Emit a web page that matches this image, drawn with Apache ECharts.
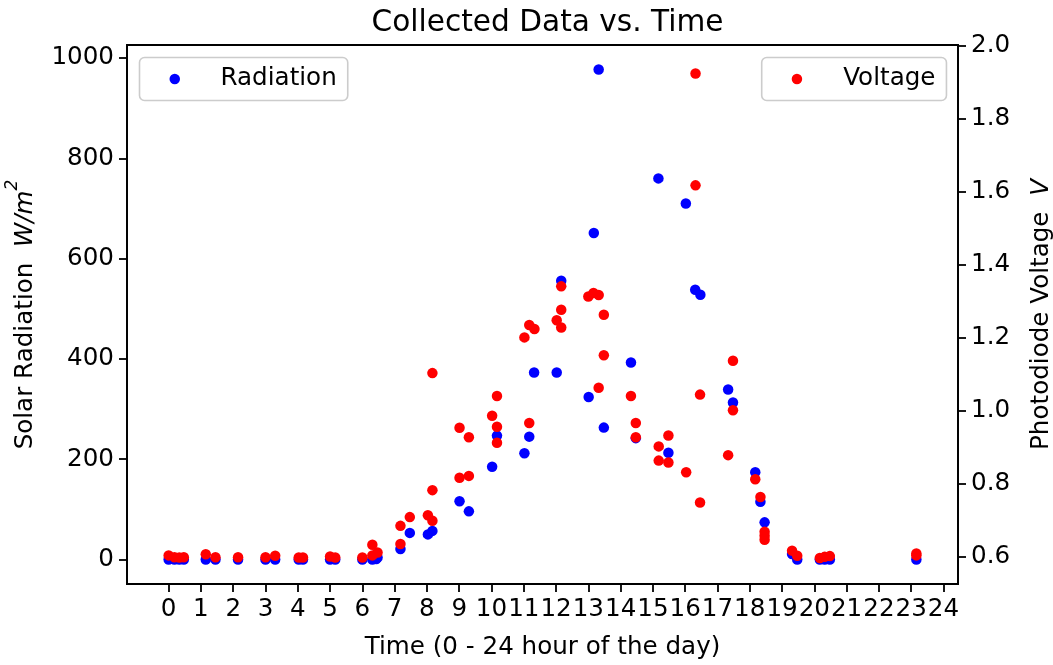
<!DOCTYPE html>
<html>
<head>
<meta charset="utf-8">
<script src="https://cdn.jsdelivr.net/npm/echarts@6/dist/echarts.min.js"></script>
<style>
html,body{margin:0;padding:0;background:#fff;}
#chart{width:1053px;height:665px;}
</style>
</head>
<body>
<div id="chart"></div>
<script>
// ---- data ----
var radTime = [0.0, 0.18, 0.33, 0.47, 1.15, 1.45, 2.15, 3.0, 3.3, 4.03, 4.16, 5.0, 5.16, 6.0, 6.31, 6.43, 6.47,
  7.18, 7.47, 8.03, 8.17, 9.01, 9.30, 10.02, 10.17, 11.02, 11.17, 11.32, 12.02, 12.16, 13.01, 13.17, 13.32, 13.48,
  14.32, 14.47, 15.17, 15.48, 16.02, 16.31, 16.47, 17.33, 17.48, 18.17, 18.33, 18.46, 19.31, 19.47, 20.17, 20.32, 20.48, 23.16];
var radValue = [0, 0, 0, 0, 0, 0, 0, 0, 0, 0, 0, 0, 0, 0, 0, 1, 4,
  21, 53, 50, 57, 116, 96, 185, 247, 212, 245, 373, 373, 556, 324, 651, 977, 263,
  393, 242, 760, 213, 710, 538, 528, 339, 313, 174, 115, 74, 11, 0, 0, 0, 0, 0];

var voltTime = [0.0, 0.18, 0.33, 0.47, 1.15, 1.45, 2.15, 3.0, 3.3, 4.03, 4.16, 5.0, 5.16, 6.0, 6.31, 6.31, 6.47,
  7.18, 7.18, 7.47, 8.03, 8.17, 8.17, 8.17, 9.01, 9.01, 9.30, 9.30, 10.02, 10.17, 10.17, 10.17,
  11.02, 11.17, 11.33, 11.17, 12.02, 12.16, 12.16, 12.16, 13.0, 13.16, 13.32, 13.48, 13.48, 13.32,
  14.32, 14.47, 14.47, 15.18, 15.18, 15.48, 15.48, 16.03, 16.32, 16.32, 16.46, 16.46, 17.33, 17.48, 17.48,
  18.17, 18.33, 18.46, 18.46, 18.46, 19.31, 19.47, 20.17, 20.32, 20.48, 23.16, 23.16];
var voltValue = [0.603, 0.598, 0.597, 0.598, 0.606, 0.598, 0.598, 0.598, 0.602, 0.597, 0.597, 0.600, 0.597, 0.597, 0.632, 0.603, 0.611,
  0.684, 0.634, 0.708, 0.713, 0.698, 0.782, 1.103, 0.953, 0.816, 0.927, 0.821, 0.986, 1.040, 0.956, 0.912,
  1.201, 1.235, 1.224, 0.966, 1.248, 1.277, 1.228, 1.341, 1.313, 1.323, 1.317, 1.263, 1.152, 1.063,
  1.040, 0.966, 0.927, 0.902, 0.863, 0.932, 0.858, 0.831, 1.925, 1.618, 1.044, 0.748, 0.878, 1.137, 1.001,
  0.812, 0.763, 0.668, 0.657, 0.646, 0.616, 0.602, 0.596, 0.599, 0.601, 0.603, 0.608];

var xTicks = [0,1,2,3,4,5,6,7,8,9,10,11,12,13,14,15,16,17,18,19,20,21,22,23,24];
var radTicks = [0, 200, 400, 600, 800, 1000];
var voltTicks = [0.6, 0.8, 1.0, 1.2, 1.4, 1.6, 1.8, 2.0];

var FONT = 'DejaVu Sans';
var FS = 24.6;

function pairs(xs, ys){ var out=[]; for(var i=0;i<xs.length;i++){ out.push([xs[i], ys[i]]); } return out; }

var chart = echarts.init(document.getElementById('chart'), null, {renderer:'canvas'});
var axisLineStyle = {color:'#000', width:1.8};
var tickStyle = {color:'#000', width:1.8};
var option = {
  animation:false,
  backgroundColor:'#fff',
  textStyle:{fontFamily:FONT},
  title:{
    text:'Collected Data vs. Time',
    left:542.5, top:3, textAlign:'center',
    textStyle:{fontFamily:FONT, fontSize:29.6, fontWeight:'normal', color:'#000'}
  },
  grid:{left:127, top:45, width:831, height:539, show:true, borderColor:'#000', borderWidth:1.8,
    containLabel:false, outerBoundsMode:'none'},
  legend:[
    {
      data:['Radiation'], left:139.5, top:57.5, orient:'horizontal',
      padding:[9,11,9,30], itemWidth:10.5, itemHeight:10.5, icon:'circle',
      backgroundColor:'rgba(255,255,255,0.8)', borderColor:'#cccccc', borderWidth:1.6, borderRadius:5,
      formatter:function(n){ return '{a|'+n+'}'; },
      textStyle:{fontFamily:FONT, fontSize:FS, color:'#000', rich:{a:{fontFamily:FONT, fontSize:FS, color:'#000', padding:[0,0,0,35.5]}}}
    },
    {
      data:['Voltage'], left:761.7, top:57.5, orient:'horizontal',
      padding:[9,11,9,30], itemWidth:10.5, itemHeight:10.5, icon:'circle',
      backgroundColor:'rgba(255,255,255,0.8)', borderColor:'#cccccc', borderWidth:1.6, borderRadius:5,
      formatter:function(n){ return '{a|'+n+'}'; },
      textStyle:{fontFamily:FONT, fontSize:FS, color:'#000', rich:{a:{fontFamily:FONT, fontSize:FS, color:'#000', padding:[0,0,0,36]}}}
    }
  ],
  xAxis:{
    type:'value', min:-1.29, max:24.45,
    name:'Time (0 - 24 hour of the day)', nameLocation:'middle', nameGap:51,
    nameTextStyle:{fontFamily:FONT, fontSize:FS, color:'#000'},
    axisLine:{show:true, onZero:false, lineStyle:axisLineStyle},
    axisTick:{show:true, length:8, lineStyle:tickStyle, customValues:xTicks},
    axisLabel:{fontFamily:FONT, fontSize:FS, color:'#000', margin:13, customValues:xTicks, hideOverlap:false,
      formatter:function(v){ return String(Math.round(v)); }},
    splitLine:{show:false}
  },
  yAxis:[
    {
      type:'value', position:'left', min:-48.9, max:1026,
      name:'{n|Solar Radiation  }{i|W/m}{s|2}', nameLocation:'middle', nameGap:89, nameRotate:90,
      nameTextStyle:{fontFamily:FONT, fontSize:FS, color:'#000', rich:{
        n:{fontFamily:FONT, fontSize:FS, color:'#000', lineHeight:34, verticalAlign:'bottom'},
        i:{fontFamily:FONT, fontSize:FS, color:'#000', fontStyle:'italic', lineHeight:34, verticalAlign:'bottom'},
        s:{fontFamily:FONT, fontSize:17, color:'#000', fontStyle:'italic', verticalAlign:'top', lineHeight:22}
      }},
      axisLine:{show:true, onZero:false, lineStyle:axisLineStyle},
      axisTick:{show:true, length:8, lineStyle:tickStyle, customValues:radTicks},
      axisLabel:{fontFamily:FONT, fontSize:FS, color:'#000', margin:13, customValues:radTicks,
        formatter:function(v){ return String(Math.round(v)); }},
      splitLine:{show:false}
    },
    {
      type:'value', position:'right', min:0.5245, max:2.003,
      name:'{n|Photodiode Voltage  }{i|V}', nameLocation:'middle', nameGap:71, nameRotate:90,
      nameTextStyle:{fontFamily:FONT, fontSize:FS, color:'#000', rich:{
        n:{fontFamily:FONT, fontSize:FS, color:'#000'},
        i:{fontFamily:FONT, fontSize:FS, color:'#000', fontStyle:'italic'}
      }},
      axisLine:{show:true, onZero:false, lineStyle:axisLineStyle},
      axisTick:{show:true, length:8, lineStyle:tickStyle, customValues:voltTicks},
      axisLabel:{fontFamily:FONT, fontSize:FS, color:'#000', margin:13, customValues:voltTicks,
        formatter:function(v){ return v.toFixed(1); }},
      splitLine:{show:false}
    }
  ],
  series:[
    {
      name:'Radiation', type:'scatter', xAxisIndex:0, yAxisIndex:0,
      symbol:'circle', symbolSize:10.5, itemStyle:{color:'#0000ff', opacity:1},
      data:pairs(radTime, radValue)
    },
    {
      name:'Voltage', type:'scatter', xAxisIndex:0, yAxisIndex:1,
      symbol:'circle', symbolSize:10.5, itemStyle:{color:'#ff0000', opacity:1},
      data:pairs(voltTime, voltValue)
    }
  ]
};
chart.setOption(option);
</script>
</body>
</html>
